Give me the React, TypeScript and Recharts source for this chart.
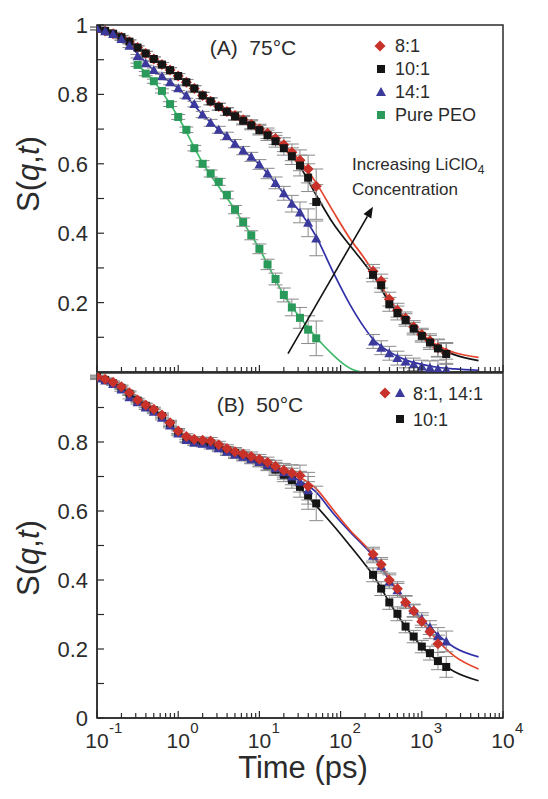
import React from 'react';
import {
    ComposedChart,
    Line,
    Scatter,
    XAxis,
    YAxis,
    ErrorBar,
    ReferenceArea,
    ReferenceLine,
} from 'recharts';

const FONT = '"Liberation Sans", Arial, sans-serif';
const INK = '#2b2b2b';

// measurement time grids (ps): spin-echo range and backscattering range
const nseTime = [0.1, 0.126, 0.158, 0.2, 0.251, 0.316, 0.398, 0.501, 0.631, 0.794, 1, 1.26, 1.58, 2, 2.51, 3.16, 3.98, 5.01, 6.31, 7.94, 10, 12.6, 15.8, 20, 25.1, 31.6, 39.8, 50.1];
const bsTime = [251, 316, 398, 501, 631, 794, 1000, 1260, 1580, 2000];
const nseErr = [0.004, 0.004, 0.004, 0.005, 0.005, 0.005, 0.006, 0.006, 0.006, 0.007, 0.007, 0.008, 0.008, 0.009, 0.01, 0.01, 0.011, 0.012, 0.012, 0.013, 0.014, 0.015, 0.017, 0.02, 0.024, 0.03, 0.04, 0.05];
const bsErr = [0.02, 0.02, 0.02, 0.02, 0.018, 0.018, 0.018, 0.02, 0.025, 0.03];

// (A) 75 C
const a81Nse = [0.99, 0.983, 0.975, 0.965, 0.952, 0.935, 0.918, 0.902, 0.886, 0.87, 0.853, 0.835, 0.817, 0.797, 0.78, 0.765, 0.751, 0.739, 0.727, 0.714, 0.7, 0.688, 0.673, 0.655, 0.633, 0.61, 0.585, 0.535];
const a81Bs = [0.29, 0.262, 0.21, 0.178, 0.155, 0.13, 0.108, 0.09, 0.07, 0.055];
const a101Nse = [0.99, 0.983, 0.975, 0.965, 0.952, 0.935, 0.918, 0.902, 0.886, 0.87, 0.853, 0.835, 0.817, 0.797, 0.78, 0.764, 0.75, 0.737, 0.724, 0.711, 0.697, 0.682, 0.665, 0.645, 0.622, 0.595, 0.56, 0.49];
const a101Bs = [0.28, 0.25, 0.195, 0.17, 0.15, 0.125, 0.104, 0.085, 0.068, 0.052];
const a141Nse = [0.99, 0.982, 0.974, 0.96, 0.94, 0.91, 0.89, 0.87, 0.852, 0.835, 0.818, 0.797, 0.772, 0.742, 0.718, 0.698, 0.68, 0.658, 0.638, 0.62, 0.598, 0.572, 0.545, 0.515, 0.485, 0.46, 0.43, 0.385];
const a141Bs = [0.088, 0.07, 0.054, 0.04, 0.03, 0.022, 0.016, 0.012, 0.009, 0.007];
const aPeoNse = [0.885, 0.86, 0.838, 0.81, 0.772, 0.735, 0.698, 0.645, 0.6, 0.572, 0.548, 0.51, 0.468, 0.432, 0.394, 0.355, 0.31, 0.268, 0.222, 0.186, 0.156, 0.122, 0.097];

const a81Fit = [[0.1, 0.99], [0.2, 0.965], [0.5, 0.902], [1, 0.853], [2, 0.797], [5, 0.738], [10, 0.7], [20, 0.655], [30, 0.615], [50, 0.545], [80, 0.465], [130, 0.385], [200, 0.325], [250, 0.29], [400, 0.21], [630, 0.155], [1000, 0.11], [1600, 0.075], [2500, 0.056], [5000, 0.042]];
const a101Fit = [[0.1, 0.99], [0.2, 0.965], [0.5, 0.902], [1, 0.853], [2, 0.797], [5, 0.737], [10, 0.697], [20, 0.645], [30, 0.6], [50, 0.51], [80, 0.43], [130, 0.365], [200, 0.31], [250, 0.28], [400, 0.2], [630, 0.15], [1000, 0.105], [1600, 0.07], [2500, 0.05], [5000, 0.033]];
const a141Fit = [[0.1, 0.99], [0.2, 0.96], [0.5, 0.87], [1, 0.818], [2, 0.742], [5, 0.658], [10, 0.598], [20, 0.515], [30, 0.468], [50, 0.39], [80, 0.29], [130, 0.195], [200, 0.125], [250, 0.095], [400, 0.058], [630, 0.035], [1000, 0.022], [1600, 0.013], [2500, 0.009], [5000, 0.005]];
const aPeoFit = [[0.3, 0.89], [0.5, 0.838], [1, 0.735], [2, 0.603], [5, 0.468], [10, 0.355], [20, 0.222], [30, 0.164], [50, 0.1], [80, 0.05], [110, 0.022], [140, 0.007], [180, 0]];

// (B) 50 C
const b81Nse = [0.99, 0.982, 0.973, 0.96, 0.943, 0.922, 0.907, 0.895, 0.878, 0.856, 0.832, 0.816, 0.808, 0.805, 0.803, 0.792, 0.781, 0.772, 0.765, 0.758, 0.75, 0.741, 0.73, 0.718, 0.71, 0.703, 0.672];
const b81Bs = [0.475, 0.445, 0.4, 0.375, 0.335, 0.31, 0.28, 0.25, 0.215];
const b141Nse = [0.985, 0.978, 0.968, 0.952, 0.93, 0.915, 0.9, 0.888, 0.87, 0.848, 0.825, 0.806, 0.798, 0.795, 0.79, 0.782, 0.772, 0.764, 0.757, 0.75, 0.742, 0.734, 0.724, 0.712, 0.7, 0.685, 0.66];
const b141Bs = [0.47, 0.44, 0.395, 0.37, 0.337, 0.312, 0.287, 0.262, 0.237, 0.222];
const b101Nse = [0.988, 0.98, 0.97, 0.957, 0.94, 0.92, 0.905, 0.892, 0.875, 0.852, 0.828, 0.81, 0.802, 0.8, 0.796, 0.786, 0.776, 0.768, 0.76, 0.752, 0.744, 0.732, 0.72, 0.705, 0.69, 0.67, 0.645, 0.622];
const b101Bs = [0.415, 0.375, 0.335, 0.302, 0.265, 0.236, 0.207, 0.188, 0.165, 0.148];

const b81Fit = [[0.1, 0.99], [0.2, 0.96], [0.5, 0.895], [1, 0.832], [2, 0.805], [5, 0.772], [10, 0.75], [20, 0.718], [30, 0.7], [50, 0.665], [80, 0.605], [130, 0.545], [200, 0.5], [250, 0.475], [400, 0.405], [630, 0.335], [1000, 0.278], [1600, 0.222], [2500, 0.18], [5000, 0.142]];
const b141Fit = [[0.1, 0.985], [0.2, 0.952], [0.5, 0.888], [1, 0.825], [2, 0.795], [5, 0.764], [10, 0.742], [20, 0.712], [30, 0.69], [50, 0.655], [80, 0.595], [130, 0.54], [200, 0.495], [250, 0.47], [400, 0.4], [630, 0.337], [1000, 0.287], [1600, 0.24], [2500, 0.205], [5000, 0.177]];
const b101Fit = [[0.1, 0.988], [0.2, 0.957], [0.5, 0.892], [1, 0.828], [2, 0.8], [5, 0.768], [10, 0.744], [20, 0.705], [30, 0.672], [50, 0.615], [80, 0.56], [130, 0.5], [200, 0.445], [250, 0.415], [400, 0.335], [630, 0.265], [1000, 0.207], [1600, 0.165], [2500, 0.135], [5000, 0.108]];

// axis ticks
const xDecades = [0.1, 1, 10, 100, 1000, 10000];
const xMinor = [2, 3, 4, 5, 6, 7, 8, 9];
const yTicksA = [0.1, 0.2, 0.3, 0.4, 0.5, 0.6, 0.7, 0.8, 0.9, 1];
const yTicksB = [0, 0.1, 0.2, 0.3, 0.4, 0.5, 0.6, 0.7, 0.8, 0.9];

// arrow annotation in panel A (data coordinates)
const arrowFrom = { x: 22.5, y: 0.053 };
const arrowTo = { x: 250, y: 0.476 };

const xTicks = xDecades.flatMap((d, i) =>
    i < xDecades.length - 1 ? [d, ...xMinor.map((m) => +(d * m).toPrecision(3))] : [d]
);

const pts = (times: number[], vals: number[], errs: number[]) =>
    vals.map((s, i) => ({ t: times[i], s, e: errs[i] }));
const fit = (pairs: number[][]) => pairs.map(([t, s]) => ({ t, s }));

const C = {
    red: '#c8322a',
    redLine: '#e5432b',
    black: '#151515',
    blue: '#3b3a9c',
    blueLine: '#2f2fa8',
    green: '#2a9a5a',
    greenLine: '#3dbb6a',
    err: '#8a8a8a',
};

const diamond = (fill: string, r = 5.5) => (p: any) =>
    p.cx == null ? null : (
        <polygon points={`${p.cx},${p.cy - r} ${p.cx + r},${p.cy} ${p.cx},${p.cy + r} ${p.cx - r},${p.cy}`} fill={fill} />
    );
const square = (fill: string, r = 4) => (p: any) =>
    p.cx == null ? null : <rect x={p.cx - r} y={p.cy - r} width={2 * r} height={2 * r} fill={fill} />;
const triangle = (fill: string, r = 5) => (p: any) =>
    p.cx == null ? null : (
        <polygon points={`${p.cx},${p.cy - r} ${p.cx + r},${p.cy + r * 0.8} ${p.cx - r},${p.cy + r * 0.8}`} fill={fill} />
    );

const isMajor = (v: number) => {
    const lg = Math.log10(v);
    return Math.abs(lg - Math.round(lg)) < 1e-6;
};

const makeXTick = (withLabel: boolean) => (props: any) => {
    const { x, y, payload } = props;
    const v = payload.value;
    const major = isMajor(v);
    const exp = Math.round(Math.log10(v));
    return (
        <g>
            <line x1={x} x2={x} y1={y} y2={y - (major ? 7 : 5)} stroke={INK} strokeWidth={1.2} />
            {withLabel && major && (
                <g fontFamily={FONT} fill={INK}>
                    <text x={x} y={y + 30} textAnchor="middle" fontSize={21}>10</text>
                    <text x={x + 12} y={y + 15} textAnchor="start" fontSize={15}>{exp}</text>
                </g>
            )}
        </g>
    );
};

const YTick = (props: any) => {
    const { x, y, payload } = props;
    const v = payload.value;
    const labelled = Math.round(v * 10) % 2 === 0;
    return (
        <g>
            <line x1={x} x2={x + 7} y1={y} y2={y} stroke={INK} strokeWidth={1.2} />
            {labelled && (
                <text x={x - 9} y={y} dy="0.36em" textAnchor="end" fontSize={22} fontFamily={FONT} fill={INK}>
                    {String(+v.toFixed(1))}
                </text>
            )}
        </g>
    );
};

const Arrow = (props: any) => {
    const { x1, y1, x2, y2 } = props;
    if (x1 == null) return null;
    const ang = Math.atan2(y2 - y1, x2 - x1);
    const L = 11;
    const W = 4.5;
    const bx = x2 - L * Math.cos(ang);
    const by = y2 - L * Math.sin(ang);
    const nx = -Math.sin(ang) * W;
    const ny = Math.cos(ang) * W;
    return (
        <g>
            <line x1={x1} y1={y1} x2={bx} y2={by} stroke="#111" strokeWidth={1.6} />
            <polygon points={`${x2},${y2} ${bx + nx},${by + ny} ${bx - nx},${by - ny}`} fill="#111" />
        </g>
    );
};

function axes(yTicks: number[], withXLabel: boolean, xHeight: number) {
    return [
        <XAxis
            key="x"
            type="number"
            dataKey="t"
            scale="log"
            domain={[0.1, 10000]}
            allowDataOverflow
            ticks={xTicks}
            interval={0}
            tickSize={0}
            tickMargin={0}
            tickLine={false}
            tick={makeXTick(withXLabel)}
            axisLine={{ stroke: INK, strokeWidth: 1.5 }}
            height={xHeight}
        />,
        <YAxis
            key="y"
            type="number"
            dataKey="s"
            domain={[0, 1]}
            allowDataOverflow
            ticks={yTicks}
            interval={0}
            tickSize={0}
            tickMargin={0}
            tickLine={false}
            tick={YTick}
            axisLine={{ stroke: INK, strokeWidth: 1.5 }}
            width={97}
        />,
    ];
}

const frame = (
    <ReferenceArea x1={0.1} x2={10000} y1={0} y2={1} fill="none" stroke={INK} strokeWidth={1.5} ifOverflow="visible" />
);

const errBar = <ErrorBar dataKey="e" direction="y" width={7} stroke={C.err} strokeWidth={1} />;

function PanelA() {
    const peoTime = nseTime.slice(nseTime.length - aPeoNse.length);
    return (
        <ComposedChart width={548} height={373} margin={{ top: 25, right: 45, bottom: 0, left: 0 }}>
            {axes(yTicksA, false, 1)}
            <Line data={fit(a81Fit)} dataKey="s" type="monotone" stroke={C.redLine} strokeWidth={1.7} dot={false} isAnimationActive={false} />
            <Line data={fit(a101Fit)} dataKey="s" type="monotone" stroke={C.black} strokeWidth={1.7} dot={false} isAnimationActive={false} />
            <Line data={fit(a141Fit)} dataKey="s" type="monotone" stroke={C.blueLine} strokeWidth={1.7} dot={false} isAnimationActive={false} />
            <Line data={fit(aPeoFit)} dataKey="s" type="monotone" stroke={C.greenLine} strokeWidth={1.7} dot={false} isAnimationActive={false} />
            <Scatter data={[...pts(nseTime, a81Nse, nseErr), ...pts(bsTime, a81Bs, bsErr)]} shape={diamond(C.red)} isAnimationActive={false}>
                {errBar}
            </Scatter>
            <Scatter data={[...pts(nseTime, a101Nse, nseErr), ...pts(bsTime, a101Bs, bsErr)]} shape={square(C.black)} isAnimationActive={false}>
                {errBar}
            </Scatter>
            <Scatter data={[...pts(nseTime, a141Nse, nseErr), ...pts(bsTime, a141Bs, bsErr)]} shape={triangle(C.blue)} isAnimationActive={false}>
                {errBar}
            </Scatter>
            <Scatter data={pts(peoTime, aPeoNse, nseErr.slice(nseErr.length - aPeoNse.length))} shape={square(C.green)} isAnimationActive={false}>
                {errBar}
            </Scatter>
            <ReferenceLine segment={[arrowFrom, arrowTo]} shape={Arrow} ifOverflow="visible" />
            {frame}
        </ComposedChart>
    );
}

function PanelB() {
    return (
        <ComposedChart width={548} height={434} margin={{ top: 8, right: 45, bottom: 31, left: 0 }}>
            {axes(yTicksB, true, 50)}
            <Line data={fit(b101Fit)} dataKey="s" type="monotone" stroke={C.black} strokeWidth={1.7} dot={false} isAnimationActive={false} />
            <Line data={fit(b141Fit)} dataKey="s" type="monotone" stroke={C.blueLine} strokeWidth={1.7} dot={false} isAnimationActive={false} />
            <Line data={fit(b81Fit)} dataKey="s" type="monotone" stroke={C.redLine} strokeWidth={1.7} dot={false} isAnimationActive={false} />
            <Scatter data={[...pts(nseTime, b101Nse, nseErr), ...pts(bsTime, b101Bs, bsErr)]} shape={square(C.black)} isAnimationActive={false}>
                {errBar}
            </Scatter>
            <Scatter data={[...pts(nseTime, b141Nse, nseErr), ...pts(bsTime, b141Bs, bsErr)]} shape={triangle(C.blue)} isAnimationActive={false}>
                {errBar}
            </Scatter>
            <Scatter data={[...pts(nseTime, b81Nse, nseErr), ...pts(bsTime, b81Bs, bsErr)]} shape={diamond(C.red)} isAnimationActive={false}>
                {errBar}
            </Scatter>
            {frame}
        </ComposedChart>
    );
}

function Overlay() {
    const txt = { fontFamily: FONT, fill: INK } as const;
    return (
        <svg width={548} height={799} style={{ position: 'absolute', left: 0, top: 0, pointerEvents: 'none' }}>
            {/* y titles */}
            <text transform="translate(39,174) rotate(-90)" textAnchor="middle" fontSize={31} {...txt}>
                S(<tspan fontStyle="italic">q</tspan>,<tspan fontStyle="italic">t</tspan>)
            </text>
            <text transform="translate(39,558) rotate(-90)" textAnchor="middle" fontSize={31} {...txt}>
                S(<tspan fontStyle="italic">q</tspan>,<tspan fontStyle="italic">t</tspan>)
            </text>
            <text x={303} y={778} textAnchor="middle" fontSize={31} {...txt}>Time (ps)</text>

            {/* panel A */}
            <text x={253} y={55} textAnchor="middle" fontSize={21} {...txt}>{'(A)\u00a0 75°C'}</text>
            {diamond(C.red)({ cx: 380, cy: 46 })}
            {square(C.black)({ cx: 381, cy: 69 })}
            {triangle(C.blue)({ cx: 381, cy: 92 })}
            {square(C.green)({ cx: 381, cy: 115 })}
            <text x={395} y={52} fontSize={18} {...txt}>8:1</text>
            <text x={395} y={75} fontSize={18} {...txt}>10:1</text>
            <text x={395} y={98} fontSize={18} {...txt}>14:1</text>
            <text x={395} y={121} fontSize={18} {...txt}>Pure PEO</text>
            <text x={352} y={170} fontSize={17} {...txt}>
                Increasing LiClO<tspan fontSize={12} dy={4}>4</tspan>
            </text>
            <text x={352} y={195} fontSize={17} {...txt}>Concentration</text>

            {/* panel B */}
            <text x={260} y={412} textAnchor="middle" fontSize={21} {...txt}>{'(B)\u00a0 50°C'}</text>
            {diamond(C.red)({ cx: 385, cy: 393 })}
            {triangle(C.blue)({ cx: 400, cy: 393 })}
            {square(C.black)({ cx: 400, cy: 419 })}
            <text x={413} y={400} fontSize={18} {...txt}>8:1, 14:1</text>
            <text x={413} y={426} fontSize={18} {...txt}>10:1</text>
        </svg>
    );
}

export default function App() {
    return (
        <div style={{ position: 'absolute', left: 0, top: 0, width: 548, height: 799, background: '#fff' }}>
            <div style={{ position: 'absolute', left: 0, top: 0 }}>
                <PanelA />
            </div>
            <div style={{ position: 'absolute', left: 0, top: 365 }}>
                <PanelB />
            </div>
            <Overlay />
        </div>
    );
}
